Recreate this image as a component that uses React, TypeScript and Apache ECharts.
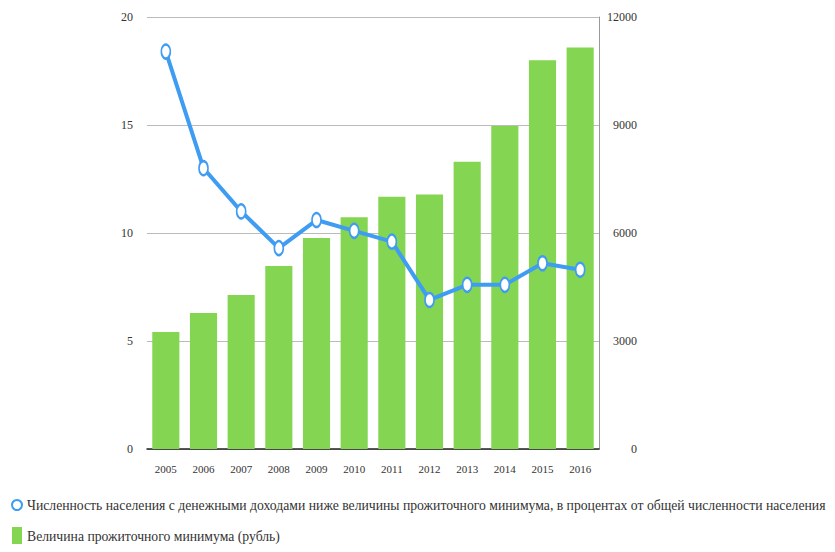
import React, { useEffect, useRef } from "react";
import * as echarts from "echarts";

const years = ["2005","2006","2007","2008","2009","2010","2011","2012","2013","2014","2015","2016"];
const povertyShare = [18.4, 13.0, 11.0, 9.3, 10.6, 10.1, 9.6, 6.9, 7.6, 7.6, 8.6, 8.3];
const subsistenceMin = [3250, 3780, 4280, 5080, 5860, 6440, 7010, 7070, 7980, 8970, 10800, 11150];
const lineName = "Численность населения с денежными доходами ниже величины прожиточного минимума, в процентах от общей численности населения";
const barName = "Величина прожиточного минимума (рубль)";

const FONT = "Liberation Serif";

export default function App() {
  const ref = useRef<HTMLDivElement>(null);
  useEffect(() => {
    const chart = echarts.init(ref.current!, null, { renderer: "svg" });
    chart.setOption({
      animation: false,
      textStyle: { fontFamily: FONT },
      grid: { left: 147, right: 236, top: 17, bottom: 103 },
      legend: {
        orient: "vertical",
        left: 6,
        top: 493,
        height: 58,
        itemGap: 15,
        itemWidth: 10,
        itemHeight: 18,
        textStyle: { fontFamily: FONT, fontSize: 13.7, color: "#333" },
        data: [
          { name: lineName, icon: "emptyCircle" },
          { name: barName, icon: "rect" },
        ],
      },
      xAxis: {
        type: "category",
        data: years,
        axisLine: { lineStyle: { color: "#222", width: 1.5 } },
        axisTick: { show: false },
        axisLabel: { fontFamily: FONT, fontSize: 11, color: "#333", margin: 14 },
      },
      yAxis: [
        {
          type: "value",
          min: 0,
          max: 20,
          interval: 5,
          axisLine: { show: false },
          axisTick: { show: false },
          axisLabel: { fontFamily: FONT, fontSize: 12, color: "#333", margin: 14 },
          splitLine: { lineStyle: { color: "#bbb" } },
        },
        {
          type: "value",
          min: 0,
          max: 12000,
          interval: 3000,
          position: "right",
          axisLine: { show: true, lineStyle: { color: "#999" } },
          axisTick: { show: false },
          axisLabel: { fontFamily: FONT, fontSize: 12, color: "#333", margin: 38, align: "right", formatter: (v: number) => String(v) },
          splitLine: { show: false },
        },
      ],
      series: [
        {
          name: barName,
          type: "bar",
          yAxisIndex: 1,
          data: subsistenceMin,
          barCategoryGap: "28%",
          itemStyle: { color: "#83d552" },
          z: 1,
        },
        {
          name: lineName,
          type: "line",
          yAxisIndex: 0,
          data: povertyShare,
          symbol: "emptyCircle",
          symbolSize: [9, 14],
          lineStyle: { color: "#3f9cf3", width: 4 },
          itemStyle: { color: "#3f9cf3", borderWidth: 3, borderColor: "#3f9cf3" },
          z: 3,
        },
      ],
    });
    return () => chart.dispose();
  }, []);
  return <div ref={ref} style={{ width: 835, height: 552, margin: -8 }} />;
}
